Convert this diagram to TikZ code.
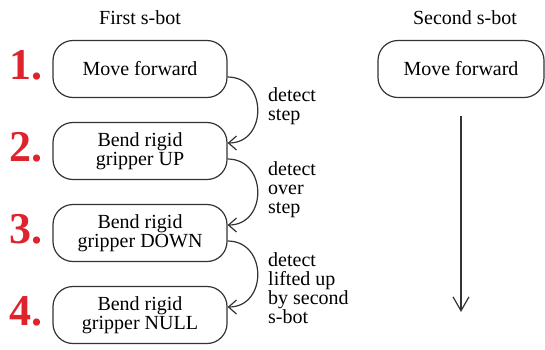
\documentclass[tikz,border=0pt]{standalone}
\usepackage{fontspec}
\setmainfont{Liberation Serif}
\usetikzlibrary{positioning, arrows.meta}
\definecolor{numred}{RGB}{222,35,45}

\begin{document}
\begin{tikzpicture}[node distance=41pt, on grid,
    behav/.style={draw=black!80, line width=0.6pt, rounded corners=10pt,
        minimum width=87pt, minimum height=28.5pt, align=center,
        font=\fontsize{10}{9.7}\selectfont, inner sep=1pt},
    num/.style={text=numred, font=\fontsize{22}{22}\selectfont\bfseries,
        inner sep=0pt, anchor=base east},
    cond/.style={font=\fontsize{10}{9.5}\selectfont, align=left,
        inner sep=0pt, anchor=west},
    title/.style={font=\fontsize{10}{10}\selectfont, inner sep=0pt},
    flow/.style={draw=black!80, line width=0.6pt,
        -{Straight Barb[length=4pt,width=7pt]}}]
    \useasboundingbox (0,0) rectangle (272.5pt,-174.5pt);

    % first s-bot
    \node[behav] (m1) at (70pt,-34.5pt) {Move forward};
    \node[behav] (m2) [below=of m1] {Bend rigid\\gripper UP};
    \node[behav] (m3) [below=of m2] {Bend rigid\\gripper DOWN};
    \node[behav] (m4) [below=of m3] {Bend rigid\\gripper NULL};

    % second s-bot
    \node[behav, minimum width=83pt] (s1) [right=160.5pt of m1] {Move forward};

    \node[title] (t1) [above=25.5pt of m1] {First s-bot};
    \node[title] (t2) [above=25.5pt of s1, xshift=2pt] {Second s-bot};

    \foreach \i in {1,...,4}
        \node[num] (n\i) at ([xshift=-4.5pt,yshift=-5pt]m\i.west) {\i.};

    \draw[flow] ([yshift=-4pt]m1.east) .. controls +(20pt,0) and +(20pt,0) .. ([yshift=4pt]m2.east)
        node[cond, pos=0.5, xshift=5pt, yshift=2pt] (c1) {detect\\step};
    \draw[flow] ([yshift=-4pt]m2.east) .. controls +(20pt,0) and +(20pt,0) .. ([yshift=4pt]m3.east)
        node[cond, pos=0.5, xshift=5pt, yshift=1pt] (c2) {detect\\over\\step};
    \draw[flow] ([yshift=-4pt]m3.east) .. controls +(20pt,0) and +(20pt,0) .. ([yshift=4pt]m4.east)
        node[cond, pos=0.5, xshift=5pt, yshift=-7pt] (c3) {detect\\lifted up\\by second\\s-bot};

    \coordinate[below=121.5pt of s1] (s1end);
    \draw[flow, -{Straight Barb[length=7pt,width=8pt]}] ([yshift=-9pt]s1.south) -- (s1end);
\end{tikzpicture}
\end{document}
